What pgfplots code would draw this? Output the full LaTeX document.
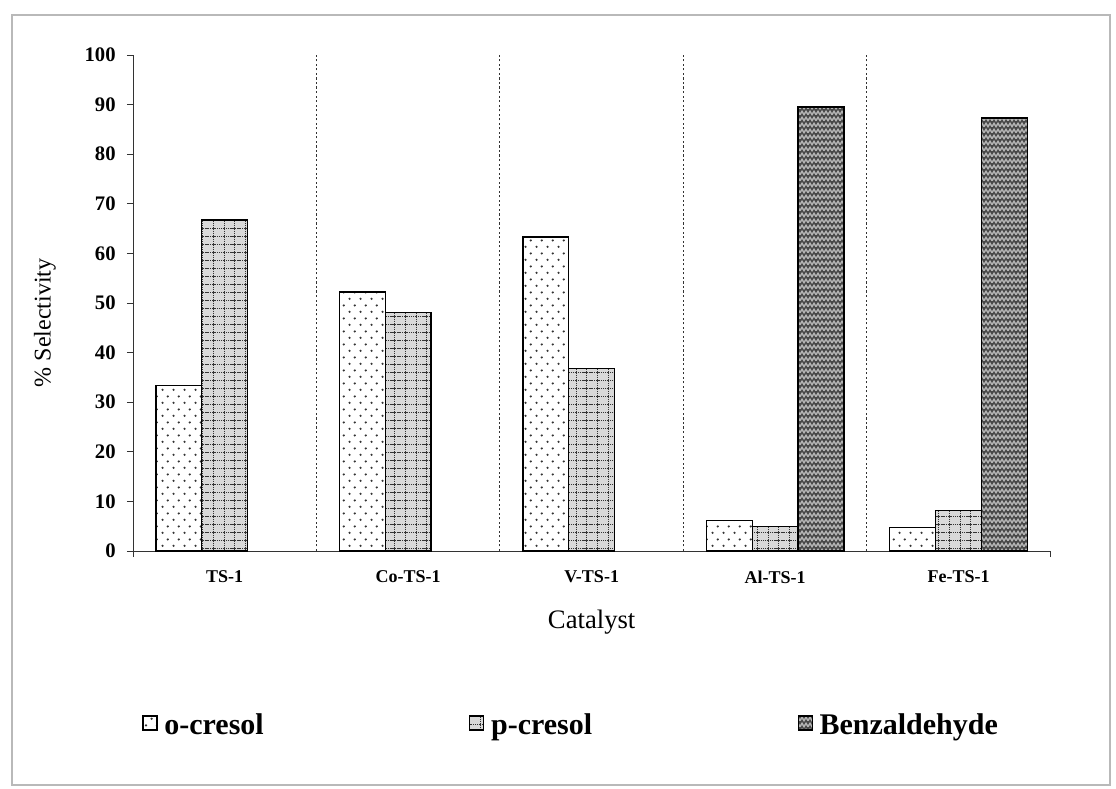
\documentclass[border=0pt]{standalone}
\usepackage{fontspec}
\setmainfont{Liberation Serif}
\usepackage{pgfplots}
\pgfplotsset{compat=1.18}
\usetikzlibrary{patterns}

\pgfdeclarepatternformonly{sdots}{\pgfqpoint{0pt}{0pt}}{\pgfqpoint{8pt}{10pt}}{\pgfqpoint{8pt}{10pt}}{%
  \pgfpathcircle{\pgfqpoint{2pt}{2.5pt}}{0.95pt}%
  \pgfpathcircle{\pgfqpoint{6pt}{7.5pt}}{0.95pt}%
  \pgfusepath{fill}}
\pgfdeclarepatternformonly{dgrid}{\pgfqpoint{-0.5pt}{-0.5pt}}{\pgfqpoint{8.5pt}{6.5pt}}{\pgfqpoint{8pt}{6pt}}{%
  \pgfsetlinewidth{0.6pt}%
  \pgfsetdash{{0.9pt}{0.5pt}}{0pt}%
  \pgfpathmoveto{\pgfqpoint{0pt}{0pt}}\pgfpathlineto{\pgfqpoint{8pt}{0pt}}%
  \pgfpathmoveto{\pgfqpoint{0pt}{0pt}}\pgfpathlineto{\pgfqpoint{0pt}{6pt}}%
  \pgfusepath{stroke}}
\pgfdeclarepatternformonly{weave}{\pgfqpoint{-1pt}{-1pt}}{\pgfqpoint{7pt}{5.5pt}}{\pgfqpoint{6pt}{4.5pt}}{%
  \pgfsetlinewidth{1.1pt}%
  \pgfpathmoveto{\pgfqpoint{0pt}{1pt}}\pgfpathlineto{\pgfqpoint{1.5pt}{3.5pt}}\pgfpathlineto{\pgfqpoint{3pt}{1pt}}\pgfpathlineto{\pgfqpoint{4.5pt}{3.5pt}}\pgfpathlineto{\pgfqpoint{6pt}{1pt}}%
  \pgfusepath{stroke}}

\begin{document}
\begin{tikzpicture}
\path[use as bounding box] (-99.75pt,-177.75pt) rectangle (737.25pt,413.25pt);
\draw[gray!55, line width=0.8pt] (-90.75pt,-175.5pt) rectangle (732.75pt,402pt);
\begin{axis}[
  at={(0pt,0pt)}, anchor=south west,
  width=688pt, height=372pt, scale only axis,
  xmin=-0.5, xmax=4.5, ymin=0, ymax=100,
  axis x line*=bottom, axis y line*=left,
  axis line style={black!80, line width=0.7pt},
  ytick={0,10,...,100},
  yticklabel style={font=\fontsize{15.5}{18}\selectfont\bfseries, xshift=-5pt},
  /pgf/number format/assume math mode=true,
  tick align=outside,
  major tick length=4.5pt,
  tick style={black!80, line width=0.6pt},
  xtick={0,1,2,3,4},
  xticklabels={TS-1,Co-TS-1,V-TS-1,Al-TS-1,Fe-TS-1},
  xticklabel style={font=\fontsize{13.5}{16}\selectfont\bfseries, yshift=-7pt},
  x tick style={draw=none},
  minor xtick={-0.5,4.5},
  minor x tick style={draw=black!80, line width=0.6pt},
  minor tick length=4.5pt,
  extra x ticks={0.5,1.5,2.5,3.5},
  extra x tick labels={},
  extra x tick style={grid=major, major grid style={black!80, dash pattern=on 1.6pt off 1.8pt, line width=0.8pt}, tick style={draw=black!80}},
  ylabel={\% Selectivity},
  ylabel style={at={(axis description cs:-0.096,0.46)}, anchor=center, font=\fontsize{18}{20}\selectfont},
  xlabel={Catalyst},
  xlabel style={at={(axis description cs:0.5,-0.143)}, anchor=center, font=\fontsize{20}{22}\selectfont},
  ybar=0pt, bar width=0.25,
  legend columns=3,
  legend style={at={(axis description cs:0.478,-0.35)}, anchor=center, draw=none, fill=none,
    font=\fontsize{22.5}{26}\selectfont\bfseries,
    /tikz/every even column/.append style={column sep=152pt},
    /tikz/every odd column/.append style={column sep=3pt}},
  legend image code/.code={\draw[#1] (0pt,-4pt) rectangle (10.5pt,6.5pt);},
]
\addplot[draw=black, line width=1pt, fill=white, postaction={pattern=sdots, pattern color=black!80}, bar shift=-0.25]
  coordinates {(0,33.3) (1,52.2) (2,63.3) (3,6.2) (4,4.8)};
\addlegendentry{o-cresol}
\addplot[draw=black, line width=1pt, fill=gray!30, postaction={pattern=dgrid, pattern color=black!80}, bar shift=0]
  coordinates {(0,66.7) (1,48.1) (2,36.8) (3,5.0) (4,8.1)};
\addlegendentry{p-cresol}
\addplot[draw=black, line width=1pt, fill=black!72, postaction={pattern=weave, pattern color=white!70!black}, bar shift=0.25]
  coordinates {(3,89.5) (4,87.3)};
\addlegendentry{Benzaldehyde}
\end{axis}
\end{tikzpicture}
\end{document}
